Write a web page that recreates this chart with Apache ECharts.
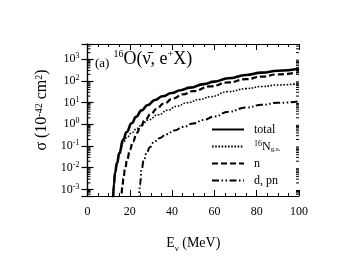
<!DOCTYPE html>
<html><head><meta charset="utf-8">
<script src="https://cdn.jsdelivr.net/npm/echarts@6/dist/echarts.min.js"></script>
<style>html,body{margin:0;padding:0;background:#fff}#c{width:348px;height:272px}</style>
</head><body><div id="c"></div>
<script>
// ---- data ----
const totalE = [12.1,12.5,13.0,14.0,15.0,16.9,18.5,20.9,23,25.6,28.5,31.9,35.5,39.8,44,48.5,55,60,66.6,75,82.4,90,100];
const totalS = [3.2e-4,1.8e-3,5.9e-3,0.017,0.046,0.20,0.44,1.12,2.2,4.4,7.8,13.2,19.5,27.5,37,49,71,93,132,186,240,295,363];

const gsE = [12.1,12.5,13.0,14.0,15.0,16.9,18.5,20.9,23,25.6,28.5,33.5,38,42.2,47,53.2,58,66.6,75,82.4,90,100];
const gsS = [3.2e-4,1.7e-3,5.5e-3,0.016,0.038,0.14,0.24,0.40,0.60,0.93,1.55,2.75,4.5,6.8,9.8,14,18.6,32,44,55,65,74];

const nE = [16.0,16.5,17.0,17.7,18.8,20.1,21.5,23.3,25,27.2,30,32.7,36,40.6,45,50,58,66.6,75,82.4,90,100];
const nS = [2.5e-4,1.4e-3,3.2e-3,8.3e-3,0.025,0.069,0.16,0.40,0.76,1.6,3.0,5.2,8.9,15.8,24,34,56,85,120,158,200,257];

const dpnE = [24.3,24.8,25.6,26.6,28,29.5,31.1,34,37.4,41,45.3,50,55,60,66.6,75,82.4,90,100];
const dpnS = [2.5e-4,1.6e-3,8.3e-3,0.022,0.049,0.089,0.14,0.23,0.35,0.52,0.76,1.1,1.6,2.3,3.8,5.9,7.9,9.8,11.5];

const seriesNames = ['total','16N g.s.','n','d, pn'];
const yMin = 5e-4, yMax = 5e3;
const minorMult = [2,3,4,5,6,7,8,9];
const decades = [-4,-3,-2,-1,0,1,2,3];

const pair = (E,S) => E.map((e,i)=>[e,S[i]]);
const minorVals = [];
decades.forEach(k => minorMult.forEach(m => { const v = m*Math.pow(10,k); if (v>yMin && v<yMax) minorVals.push([0,v]); }));

const FONT = 'Liberation Serif';
const chart = echarts.init(document.getElementById('c'), null, {renderer:'canvas'});

const axisLineStyle = {color:'#000', width:1.2};
const supRich = {
  b:{fontFamily:FONT, fontSize:12, lineHeight:14, color:'#000'},
  s:{fontFamily:FONT, fontSize:8, lineHeight:8, verticalAlign:'top', color:'#000'}
};
const lineCommon = {showSymbol:false, symbol:'none', smooth:0.5, smoothMonotone:'x'};

chart.setOption({
  animation:false,
  backgroundColor:'#fff',
  grid:{left:87.5, right:49, top:44, bottom:76, containLabel:false},
  legend:{
    data:seriesNames, orient:'vertical', left:206, top:118,
    itemWidth:32, itemHeight:10, itemGap:4,
    itemStyle:{opacity:0},
    textStyle:{fontFamily:FONT, fontSize:12, color:'#000', padding:[0,0,0,5], lineHeight:13,
      rich:{
        b:{fontFamily:FONT, fontSize:12, color:'#000', lineHeight:13},
        s:{fontFamily:FONT, fontSize:8, color:'#000', verticalAlign:'top', lineHeight:8},
        u:{fontFamily:FONT, fontSize:7, color:'#000', verticalAlign:'bottom', lineHeight:7}
      }},
    formatter: n => n==='16N g.s.' ? '{s|16}{b|N}{u|g.s.}' : '{b|'+n+'}'
  },
  xAxis:[{
    type:'value', min:0, max:100, interval:20, position:'bottom',
    name:'E{u|ν} (MeV)', nameLocation:'middle', nameGap:40,
    nameTextStyle:{fontFamily:FONT, fontSize:14, color:'#000',
      rich:{u:{fontFamily:FONT, fontSize:9, verticalAlign:'bottom', lineHeight:9, padding:[0,0,-3,0]}}},
    axisLine:{lineStyle:axisLineStyle},
    axisTick:{inside:true, length:6, lineStyle:{color:'#000', width:1}},
    minorTick:{show:true, splitNumber:4, length:3, lineStyle:{color:'#000', width:1}},
    axisLabel:{fontFamily:FONT, fontSize:12, color:'#000', margin:10},
    splitLine:{show:false}
  },{
    type:'value', min:0, max:100, interval:20, position:'top',
    axisLine:{lineStyle:axisLineStyle},
    axisTick:{inside:true, length:6, lineStyle:{color:'#000', width:1}},
    minorTick:{show:true, splitNumber:4, length:3, lineStyle:{color:'#000', width:1}},
    axisLabel:{show:false}, splitLine:{show:false}
  }],
  yAxis:[{
    type:'log', logBase:10, min:yMin, max:yMax, splitNumber:7, position:'left',
    name:'σ (10{s|-42} cm{s|2})', nameLocation:'middle', nameGap:37, nameRotate:90,
    nameTextStyle:{fontFamily:FONT, fontSize:16, color:'#000', padding:[0,0,0,20],
      rich:{s:{fontFamily:FONT, fontSize:10, verticalAlign:'top', lineHeight:10}}},
    axisLine:{lineStyle:axisLineStyle},
    axisTick:{inside:true, length:6, lineStyle:{color:'#000', width:1.2}},
    axisLabel:{margin:8, formatter:v=>{
      const e = Math.log10(v); const r = Math.round(e);
      if (Math.abs(e-r)>1e-6) return '';
      return '{b|10}{s|'+r+'}';
    }, rich:supRich},
    splitLine:{show:false}
  },{
    type:'log', logBase:10, min:yMin, max:yMax, splitNumber:7, position:'right',
    axisLine:{lineStyle:axisLineStyle},
    axisTick:{inside:true, length:6, lineStyle:{color:'#000', width:1.2}},
    axisLabel:{show:false}, splitLine:{show:false}
  }],
  series:[
    Object.assign({name:'total', type:'line', data:pair(totalE,totalS),
      lineStyle:{color:'#000', width:2.6, type:'solid'}, itemStyle:{color:'#000'}}, lineCommon),
    Object.assign({name:'16N g.s.', type:'line', data:pair(gsE,gsS),
      lineStyle:{color:'#000', width:1.6, type:[1.6,1.6]}, itemStyle:{color:'#000'}}, lineCommon),
    Object.assign({name:'n', type:'line', data:pair(nE,nS),
      lineStyle:{color:'#000', width:2.2, type:[6,3]}, itemStyle:{color:'#000'}}, lineCommon),
    Object.assign({name:'d, pn', type:'line', data:pair(dpnE,dpnS),
      lineStyle:{color:'#000', width:2, type:[7,2.5,1.5,2.5,1.5,2.5]}, itemStyle:{color:'#000'}}, lineCommon),
    {name:'minor', type:'custom', data:minorVals, silent:true, clip:false,
      renderItem:(params, api)=>{
        const v = api.value(1);
        const pL = api.coord([0, v]); const pR = api.coord([100, v]);
        return {type:'group', children:[
          {type:'line', shape:{x1:pL[0], y1:pL[1], x2:pL[0]+3, y2:pL[1]}, style:{stroke:'#000', lineWidth:1}},
          {type:'line', shape:{x1:pR[0], y1:pR[1], x2:pR[0]-3, y2:pR[1]}, style:{stroke:'#000', lineWidth:1}}
        ]};
      }}
  ],
  graphic:[{
    type:'text', left:95, top:49, silent:true,
    style:{
      text:'{a|(a)}{s|16}{b|O(ν̄, e}{p|+}{b|X)}',
      rich:{
        a:{fontFamily:FONT, fontSize:13, lineHeight:16, verticalAlign:'bottom', padding:[0,4,0,0], fill:'#000'},
        s:{fontFamily:FONT, fontSize:10, lineHeight:10, verticalAlign:'top', fill:'#000'},
        b:{fontFamily:FONT, fontSize:18, lineHeight:21, fill:'#000'},
        p:{fontFamily:FONT, fontSize:10, lineHeight:10, verticalAlign:'top', fill:'#000'}
      }
    }
  }]
});
</script></body></html>
